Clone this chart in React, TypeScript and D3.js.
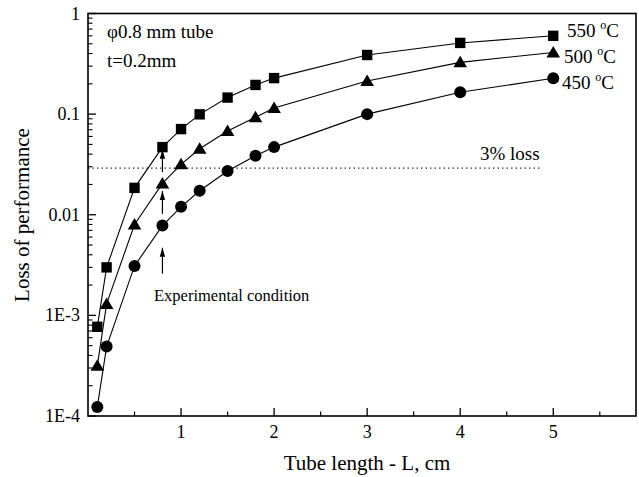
import React from 'react';
import * as d3 from 'd3';

const xValues = [0.1, 0.2, 0.5, 0.8, 1, 1.2, 1.5, 1.8, 2, 3, 4, 5];
const loss550 = [7.7e-4, 3.0e-3, 0.0185, 0.047, 0.071, 0.0995, 0.146, 0.195, 0.228, 0.387, 0.51, 0.6];
const loss500 = [3.15e-4, 1.3e-3, 8.0e-3, 0.0205, 0.0317, 0.0453, 0.068, 0.093, 0.115, 0.213, 0.327, 0.41];
const loss450 = [1.23e-4, 4.9e-4, 3.1e-3, 7.8e-3, 0.012, 0.0173, 0.0272, 0.0386, 0.047, 0.1, 0.165, 0.227];
const seriesLabels = ['550', '500', '450'];
const xTicks = [1, 2, 3, 4, 5];
const xMinorTicks = [0.5, 1.5, 2.5, 3.5, 4.5, 5.5];
const yTicks = [1e-4, 1e-3, 0.01, 0.1, 1];
const yTickLabels = ['1E-4', '1E-3', '0.01', '0.1', '1'];
const lossThreshold = 0.029;
const thresholdEnd = 4.86;
const arrowX = 0.8;
const arrowFrom = [2.6e-3, 0.0102, 0.0265];
const arrowTo = [4.7e-3, 0.0172, 0.0443];

const W = 639;
const H = 477;
const FONT = "'Liberation Serif', 'Times New Roman', serif";

export default function App() {
  const x = d3.scaleLinear().domain([0, 5.9]).range([88, 637]);
  const y = d3.scaleLog().domain([1e-4, 1]).range([416, 13.5]);
  const line = d3
    .line<number>()
    .x((_, i) => x(xValues[i]))
    .y((d) => y(d));

  const minorY: number[] = [];
  for (let e = -4; e < 0; e++) {
    for (let m = 2; m <= 9; m++) minorY.push(m * Math.pow(10, e));
  }

  const series = [loss550, loss500, loss450];
  const labelPos = [
    { x: 567, y: 37 },
    { x: 564, y: 63 },
    { x: 562, y: 89 },
  ];

  const square = (cx: number, cy: number, k: number) => (
    <rect key={k} x={cx - 5.2} y={cy - 5.2} width={10.4} height={10.4} fill="#000" />
  );
  const tri = (cx: number, cy: number, k: number) => (
    <path
      key={k}
      d={`M${cx},${cy - 6.5} L${cx + 6.8},${cy + 5} L${cx - 6.8},${cy + 5} Z`}
      fill="#000"
    />
  );
  const circ = (cx: number, cy: number, k: number) => (
    <circle key={k} cx={cx} cy={cy} r={6} fill="#000" />
  );
  const markers = [square, tri, circ];

  return (
    <svg
      width={W}
      height={H}
      style={{ position: 'absolute', left: 0, top: 0, background: '#fff' }}
      fontFamily={FONT}
    >
      <rect x={0} y={0} width={W} height={H} fill="#fff" />
      {/* threshold dotted line */}
      <line
        x1={x(0)}
        x2={x(thresholdEnd)}
        y1={y(lossThreshold)}
        y2={y(lossThreshold)}
        stroke="#333"
        strokeWidth={1.2}
        strokeDasharray="1.5,3"
      />
      <text x={480} y={160} fontSize={19}>3% loss</text>

      {/* series */}
      {series.map((s, si) => (
        <g key={si}>
          <path d={line(s) || ''} fill="none" stroke="#000" strokeWidth={1.1} />
          {s.map((v, i) => markers[si](x(xValues[i]), y(v), i))}
        </g>
      ))}

      {/* series labels */}
      {seriesLabels.map((t, i) => (
        <text key={t} x={labelPos[i].x} y={labelPos[i].y} fontSize={19}>
          {t + ' '}
          <tspan fontSize={12} dy={-8}>o</tspan>
          <tspan dy={8}>C</tspan>
        </text>
      ))}

      {/* arrows */}
      <defs>
        <marker id="ah" viewBox="0 0 10 10" refX="10" refY="5" markerWidth="9" markerHeight="9" orient="auto" markerUnits="userSpaceOnUse">
          <path d="M0,2 L10,5 L0,8 Z" fill="#000" />
        </marker>
      </defs>
      {arrowFrom.map((f, i) => (
        <line
          key={i}
          x1={x(arrowX)}
          x2={x(arrowX)}
          y1={y(f)}
          y2={y(arrowTo[i])}
          stroke="#000"
          strokeWidth={1.2}
          markerEnd="url(#ah)"
        />
      ))}
      <text x={154} y={301} fontSize={16.5}>Experimental condition</text>

      {/* annotation */}
      <text x={107} y={38} fontSize={19}>φ0.8 mm tube</text>
      <text x={107} y={67} fontSize={19}>t=0.2mm</text>

      {/* frame */}
      <rect x={88} y={13.5} width={548} height={402.5} fill="none" stroke="#000" strokeWidth={1.6} />

      {/* x ticks */}
      {xTicks.map((t) => (
        <g key={t}>
          <line x1={x(t)} x2={x(t)} y1={416} y2={408} stroke="#000" strokeWidth={1.3} />
          <text x={x(t)} y={438} fontSize={18} textAnchor="middle">{t}</text>
        </g>
      ))}
      {xMinorTicks.map((t) => (
        <line key={t} x1={x(t)} x2={x(t)} y1={416} y2={411.5} stroke="#000" strokeWidth={1.2} />
      ))}

      {/* y ticks */}
      {yTicks.map((t, i) => (
        <g key={t}>
          <line x1={88} x2={96} y1={y(t)} y2={y(t)} stroke="#000" strokeWidth={1.3} />
          <text x={80} y={y(t) + 6} fontSize={18} textAnchor="end">{yTickLabels[i]}</text>
        </g>
      ))}
      {minorY.map((t) => (
        <line key={t} x1={88} x2={92.5} y1={y(t)} y2={y(t)} stroke="#000" strokeWidth={1.1} />
      ))}

      {/* axis titles */}
      <text x={367} y={469.5} fontSize={21} textAnchor="middle">Tube length - L, cm</text>
      <text transform="translate(29,215) rotate(-90)" fontSize={21} textAnchor="middle">
        Loss of performance
      </text>
    </svg>
  );
}
